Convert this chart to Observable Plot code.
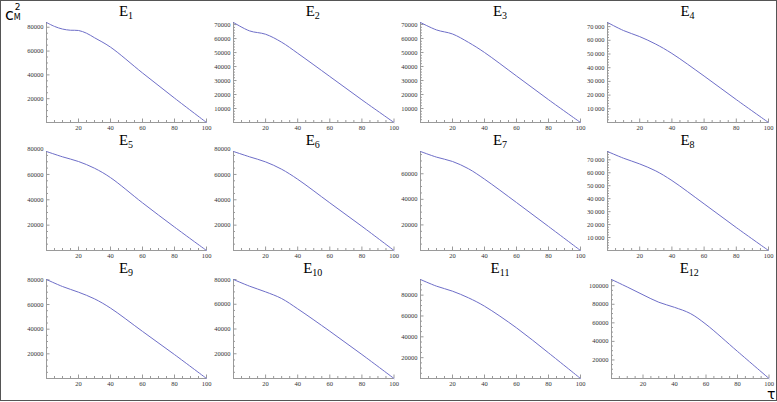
<!DOCTYPE html>
<html><head><meta charset="utf-8">
<script src="https://cdn.jsdelivr.net/npm/d3@7"></script>
<script src="https://cdn.jsdelivr.net/npm/@observablehq/plot@0.6"></script>
<style>
html,body{margin:0;padding:0;background:#fff;}
#frame{position:relative;width:777px;height:401px;box-sizing:border-box;border:1.5px solid #555;overflow:hidden;background:#fff;}
.panel{position:absolute;}
.ttl{position:absolute;font-family:"Liberation Serif",serif;font-size:15px;line-height:15px;white-space:nowrap;transform:translateX(-50%);color:#000;}
.ttl sub{font-size:10px;vertical-align:-3px;line-height:0;}
.lab{position:absolute;font-family:"DejaVu Sans",sans-serif;color:#000;white-space:nowrap;}
</style></head>
<body><div id="frame"></div>
<script>
// ---- data ----
const panelNames = ["1","2","3","4","5","6","7","8","9","10","11","12"];
const tauStd = [0,10,20,30,40,60,80,100];
const tauE1 = [0,5,10,15,20,25,30,40,60,80,100];
const tauE12 = [0,10,20,30,40,50,60,80,100];
const E1  = [84000,80700,78500,77500,77300,75000,71200,63300,41600,20500,0];
const E2  = [71500,65500,63100,57400,49500,32900,16200,0];
const E3  = [71400,66100,63200,57200,50000,33200,16300,0];
const E4  = [73000,67100,62700,57200,50400,33900,16700,0];
const E5  = [78100,73900,70200,64900,57500,37600,18500,0];
const E6  = [78100,73900,69900,64100,56200,37600,19100,0];
const E7  = [77400,73000,69600,63900,55800,37500,18800,0];
const E8  = [76400,71200,66800,61400,54000,36000,17700,0];
const E9  = [80300,74600,70000,64600,57100,38200,19400,0];
const E10 = [80000,74600,70000,64600,56300,38200,19400,0];
const E11 = [95000,88600,83800,77400,69400,48600,24600,0];
const E12 = [106700,98600,90200,82200,76700,70100,58400,29200,0];
const xTickLabels = [20,40,60,80,100];
const yTicks20 = [20000,40000,60000,80000];
const yTicks10 = [10000,20000,30000,40000,50000,60000,70000];
const yTicksE7 = [20000,40000,60000];
const yTicksE12 = [20000,40000,60000,80000,100000];

const series = [
  {tau: tauE1, v: E1, yt: yTicks20, minor: 5000, fmt: "plain"},
  {tau: tauStd, v: E2, yt: yTicks10, minor: 2000, fmt: "plain"},
  {tau: tauStd, v: E3, yt: yTicks10, minor: 2000, fmt: "plain"},
  {tau: tauStd, v: E4, yt: yTicks10, minor: 2000, fmt: "space"},
  {tau: tauStd, v: E5, yt: yTicks20, minor: 5000, fmt: "plain"},
  {tau: tauStd, v: E6, yt: yTicks20, minor: 5000, fmt: "plain"},
  {tau: tauStd, v: E7, yt: yTicksE7, minor: 5000, fmt: "plain"},
  {tau: tauStd, v: E8, yt: yTicks10, minor: 2000, fmt: "space"},
  {tau: tauStd, v: E9, yt: yTicks20, minor: 5000, fmt: "plain"},
  {tau: tauStd, v: E10, yt: yTicks20, minor: 5000, fmt: "plain"},
  {tau: tauStd, v: E11, yt: yTicks20, minor: 5000, fmt: "plain"},
  {tau: tauE12, v: E12, yt: yTicksE12, minor: 5000, fmt: "plain"}
];

// ---- layout ----
const colLeft = [45, 231.5, 419, 606];
const colRight = [205, 392, 579, 767];
const rowTop = [21, 150, 278];
const rowBottom = [121, 249, 377];
const lineColor = "#6e6ec8";
const axisColor = "#9a9a9a";
const frame = document.getElementById("frame");

series.forEach((s, i) => {
  const r = Math.floor(i / 4), c = i % 4;
  const left = i === 11 ? 609.5 : colLeft[c];
  const right = colRight[c];
  const top = rowTop[r], bottom = rowBottom[r];
  const w = right - left, h = bottom - top;
  const mL = 40, mR = 10, mT = 3, mB = 14;
  const ymax = d3.max(s.v);
  const data = s.tau.map((t, j) => ({t, v: s.v[j]}));
  const fmt = s.fmt === "space" ? (d => d3.format(",")(d).replace(/,/g, "\u2009")) : (d => String(d));
  const xMajor = d3.range(0, 101, 20);
  const xMinor = d3.range(0, 101, 5).filter(d => d % 20 !== 0);
  const yMajor = d3.range(0, ymax + 1, s.yt[0]);
  const yMinor = d3.range(0, ymax, s.minor).filter(d => d % s.yt[0] !== 0);
  const kx = 100 / w, ky = ymax / h;
  const svg = Plot.plot({
    width: w + mL + mR, height: h + mT + mB,
    marginLeft: mL, marginRight: mR, marginTop: mT, marginBottom: mB,
    x: {domain: [0, 100]},
    y: {domain: [0, ymax]},
    style: {background: "transparent", fontFamily: "Liberation Serif, serif", fontSize: "6.5px", color: "#333", overflow: "visible"},
    marks: [
      Plot.ruleY([0], {stroke: axisColor, strokeWidth: 1}),
      Plot.ruleX([0], {stroke: axisColor, strokeWidth: 1}),
      Plot.ruleX(xMajor, {x: d => d, y1: 0, y2: 3.5 * ky, stroke: axisColor}),
      Plot.ruleX(xMinor, {x: d => d, y1: 0, y2: 2 * ky, stroke: axisColor}),
      Plot.ruleY(yMajor, {y: d => d, x1: 0, x2: 3.5 * kx, stroke: axisColor}),
      Plot.ruleY(yMinor, {y: d => d, x1: 0, x2: 2 * kx, stroke: axisColor}),
      Plot.axisX(xTickLabels, {tickSize: 0, tickPadding: 3, label: null, fill: "#333"}),
      Plot.axisY(s.yt, {tickSize: 0, tickPadding: 3, label: null, tickFormat: fmt, fill: "#333"}),
      Plot.line(data, {x: "t", y: "v", curve: "catmull-rom", stroke: lineColor, strokeWidth: 1})
    ]
  });
  svg.classList.add("panel");
  svg.style.left = (left - mL) + "px";
  svg.style.top = (top - mT) + "px";
  frame.appendChild(svg);

  const t = document.createElement("div");
  t.className = "ttl";
  t.innerHTML = "E<sub>" + panelNames[i] + "</sub>";
  t.style.left = ((left + right) / 2) + "px";
  t.style.top = (top - 18) + "px";
  frame.appendChild(t);
});

// axis labels
const yl = document.createElement("div");
yl.className = "lab";
yl.style.left = "4px"; yl.style.top = "3px";
yl.innerHTML = '<span style="font-size:16px;">c</span><span style="position:relative;display:inline-block;width:10px;height:16px;"><span style="position:absolute;left:1px;top:-2px;font-size:9px;">2</span><span style="position:absolute;left:0px;top:9px;font-size:8px;">M</span></span>';
frame.appendChild(yl);

const xl = document.createElement("div");
xl.className = "lab";
xl.style.left = "766px"; xl.style.top = "387px";
xl.style.fontSize = "14px";
xl.style.lineHeight = "12px";
xl.textContent = "τ";
frame.appendChild(xl);
</script>
</body></html>
